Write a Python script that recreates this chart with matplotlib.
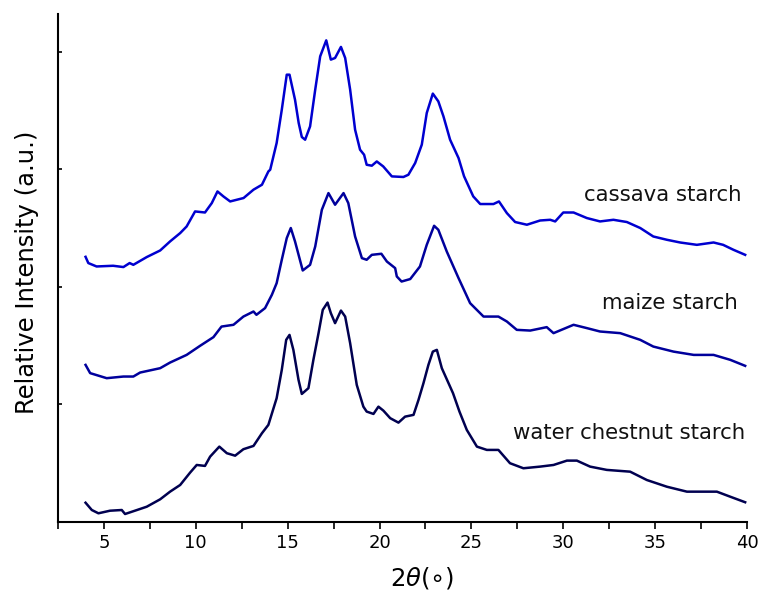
import matplotlib
matplotlib.use("Agg")
import matplotlib.pyplot as plt
from matplotlib.ticker import MultipleLocator, FixedLocator, NullFormatter

# ---- data (2theta in degrees, relative intensity, stacked as displayed) ----
cassava_x = [4.0, 4.15, 4.6, 5.5, 6.06, 6.4, 6.6, 7.33, 8.06, 8.6, 9.15, 9.5, 9.96,
             10.5, 10.87, 11.18, 11.5, 11.87, 12.6, 13.14, 13.6, 13.95, 14.05, 14.4,
             14.68, 14.95, 15.1, 15.4, 15.6, 15.77, 15.95, 16.22, 16.5, 16.77, 17.1,
             17.35, 17.58, 17.9, 18.13, 18.4, 18.67, 18.94, 19.16, 19.3, 19.58, 19.85,
             20.2, 20.67, 21.3, 21.57, 21.94, 22.3, 22.57, 22.9, 23.2, 23.48, 23.84,
             24.3, 24.6, 25.1, 25.48, 26.2, 26.5, 26.93, 27.38, 28.02, 28.74, 29.29,
             29.56, 30.0, 30.56, 31.28, 32.0, 32.73, 33.46, 34.19, 34.9, 35.64, 36.36,
             37.27, 38.18, 38.7, 39.26, 39.9]
cassava_y = [2.255, 2.202, 2.173, 2.179, 2.168, 2.202, 2.187, 2.253, 2.309, 2.386, 2.457,
             2.513, 2.641, 2.632, 2.712, 2.811, 2.769, 2.726, 2.755, 2.826, 2.868, 2.981,
             2.996, 3.223, 3.506, 3.804, 3.804, 3.591, 3.393, 3.274, 3.251, 3.364, 3.677,
             3.960, 4.096, 3.932, 3.946, 4.040, 3.946, 3.677, 3.336, 3.166, 3.123, 3.038,
             3.030, 3.066, 3.024, 2.939, 2.934, 2.953, 3.053, 3.209, 3.478, 3.643, 3.577,
             3.449, 3.251, 3.095, 2.940, 2.769, 2.704, 2.704, 2.726, 2.627, 2.551, 2.528,
             2.564, 2.570, 2.556, 2.632, 2.632, 2.585, 2.556, 2.570, 2.551, 2.500, 2.428,
             2.400, 2.377, 2.357, 2.377, 2.357, 2.315, 2.272]

maize_x = [4.0, 4.25, 5.15, 6.06, 6.6, 6.97, 8.06, 8.6, 9.5, 10.23, 10.96, 11.4, 12.05,
           12.59, 13.14, 13.3, 13.77, 14.14, 14.4, 14.68, 14.95, 15.17, 15.4, 15.82,
           16.22, 16.5, 16.86, 17.22, 17.58, 18.04, 18.3, 18.67, 19.04, 19.3, 19.58,
           20.1, 20.4, 20.85, 20.94, 21.2, 21.67, 22.2, 22.57, 22.97, 23.2, 23.66, 24.3,
           24.93, 25.66, 26.47, 26.93, 27.47, 28.2, 29.1, 29.47, 30.56, 31.28, 32.0,
           33.1, 34.19, 34.9, 36.0, 37.1, 38.18, 39.09, 39.9]
maize_y = [1.336, 1.266, 1.223, 1.237, 1.237, 1.271, 1.308, 1.356, 1.421, 1.498, 1.572,
           1.662, 1.677, 1.747, 1.790, 1.762, 1.819, 1.932, 2.031, 2.230, 2.414, 2.500,
           2.386, 2.139, 2.187, 2.343, 2.655, 2.797, 2.698, 2.797, 2.712, 2.428, 2.244,
           2.230, 2.272, 2.281, 2.215, 2.159, 2.088, 2.045, 2.066, 2.173, 2.357, 2.519,
           2.485, 2.300, 2.074, 1.861, 1.747, 1.747, 1.705, 1.634, 1.628, 1.657, 1.606,
           1.677, 1.649, 1.620, 1.606, 1.549, 1.492, 1.449, 1.421, 1.421, 1.379, 1.328]

chestnut_x = [4.0, 4.34, 4.7, 5.33, 5.97, 6.15, 6.8, 7.33, 8.06, 8.6, 9.15, 9.69, 10.05,
              10.5, 10.78, 11.28, 11.69, 12.14, 12.59, 13.14, 13.6, 13.95, 14.4, 14.68,
              14.92, 15.1, 15.31, 15.59, 15.77, 16.13, 16.4, 16.68, 16.91, 17.17, 17.35,
              17.58, 17.9, 18.13, 18.4, 18.76, 19.12, 19.3, 19.67, 19.94, 20.21, 20.58,
              21.03, 21.39, 21.85, 22.12, 22.39, 22.66, 22.9, 23.12, 23.39, 23.84, 24.0,
              24.35, 24.75, 25.3, 25.84, 26.47, 27.1, 27.83, 28.74, 29.47, 30.2, 30.74,
              31.46, 32.37, 33.64, 34.55, 35.64, 36.73, 37.82, 38.36, 39.09, 39.9]
chestnut_y = [0.164, 0.102, 0.074, 0.096, 0.102, 0.068, 0.102, 0.130, 0.193, 0.258, 0.315,
              0.420, 0.485, 0.477, 0.556, 0.641, 0.585, 0.564, 0.619, 0.647, 0.755, 0.826,
              1.053, 1.294, 1.549, 1.591, 1.464, 1.209, 1.089, 1.138, 1.379, 1.606, 1.804,
              1.866, 1.776, 1.691, 1.798, 1.747, 1.521, 1.166, 0.981, 0.939, 0.919, 0.981,
              0.947, 0.883, 0.845, 0.896, 0.911, 1.038, 1.180, 1.336, 1.449, 1.464, 1.308,
              1.151, 1.095, 0.939, 0.783, 0.641, 0.613, 0.613, 0.500, 0.457, 0.471, 0.485,
              0.522, 0.522, 0.471, 0.443, 0.428, 0.357, 0.300, 0.258, 0.258, 0.258, 0.215,
              0.168]

labels = ["cassava starch", "maize starch", "water chestnut starch"]
label_pos = [(39.72, 2.783), (39.5, 1.864), (39.9, 0.757)]
colors = ["#0000d0", "#00009c", "#000050"]
xticks_major = [5, 10, 15, 20, 25, 30, 35, 40]

fig = plt.figure(figsize=(7.63, 5.94), dpi=100)
ax = fig.add_axes([58 / 763, 1 - 522 / 594, (747 - 58) / 763, (522 - 14) / 594])

series = [(cassava_x, cassava_y), (maize_x, maize_y), (chestnut_x, chestnut_y)]
for (xs, ys), c in zip(series, colors):
    ax.plot(xs, ys, color=c, lw=1.8, solid_joinstyle="round")

for lab, (lx, ly) in zip(labels, label_pos):
    ax.text(lx, ly, lab, ha="right", va="center", fontsize=15.3, color="#111111")

ax.set_xlim(2.5, 40)
ax.set_ylim(0, 4.32)
ax.spines["top"].set_visible(False)
ax.spines["right"].set_visible(False)
ax.spines["left"].set_linewidth(1.5)
ax.spines["bottom"].set_linewidth(1.5)

ax.xaxis.set_major_locator(FixedLocator(xticks_major))
ax.xaxis.set_minor_locator(MultipleLocator(2.5))
ax.tick_params(axis="x", which="both", direction="out", length=5, width=1.2,
               labelsize=13, top=False)
ax.yaxis.set_major_locator(FixedLocator([0, 1, 2, 3, 4]))
ax.yaxis.set_major_formatter(NullFormatter())
ax.tick_params(axis="y", which="both", direction="in", length=3, width=1.2, right=False)

ax.set_xlabel(r"$2\theta(\circ)$", fontsize=17.5)
ax.xaxis.set_label_coords((422 - 58) / 689, -0.085)
ax.set_ylabel("Relative Intensity (a.u.)", fontsize=17.5)
ax.yaxis.set_label_coords(-0.027, (522 - 272) / 508)

fig.savefig("out.png", dpi=100)
